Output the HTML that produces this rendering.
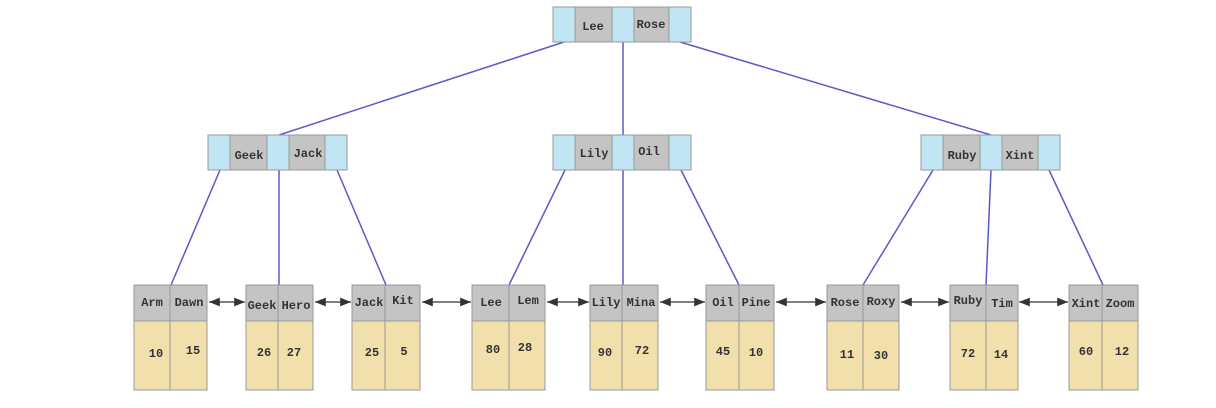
<!DOCTYPE html>
<html><head><meta charset="utf-8"><style>
html,body{margin:0;padding:0;background:#fff;}
svg text{font-family:"Liberation Mono",monospace;font-size:12px;fill:#333;font-weight:bold}
</style></head><body>
<svg width="1216" height="403" viewBox="0 0 1216 403" xmlns="http://www.w3.org/2000/svg">
<defs>
<marker id="a" viewBox="0 0 10 10" refX="10" refY="5" markerWidth="9" markerHeight="9" orient="auto-start-reverse"><path d="M0,1 L10,5 L0,9 z" fill="#333"/></marker>
</defs>
<g stroke="#5a5ac8" stroke-width="1.5">
<line x1="564" y1="42" x2="279" y2="135"/>
<line x1="623" y1="42" x2="623" y2="135"/>
<line x1="680" y1="42" x2="991" y2="135"/>
<line x1="220" y1="170" x2="171" y2="285"/>
<line x1="279" y1="170" x2="279" y2="285"/>
<line x1="337" y1="170" x2="386" y2="285"/>
<line x1="565" y1="170" x2="509" y2="285"/>
<line x1="623" y1="170" x2="623" y2="285"/>
<line x1="681" y1="170" x2="739" y2="285"/>
<line x1="933" y1="170" x2="863" y2="285"/>
<line x1="991" y1="170" x2="986" y2="285"/>
<line x1="1049" y1="170" x2="1103" y2="285"/>
</g>
<g stroke="#333" stroke-width="1.2" marker-start="url(#a)" marker-end="url(#a)">
<line x1="209" y1="302" x2="245" y2="302"/>
<line x1="315" y1="302" x2="351" y2="302"/>
<line x1="422" y1="302" x2="471" y2="302"/>
<line x1="547" y1="302" x2="589" y2="302"/>
<line x1="660" y1="302" x2="705" y2="302"/>
<line x1="776" y1="302" x2="826" y2="302"/>
<line x1="901" y1="302" x2="949" y2="302"/>
<line x1="1019" y1="302" x2="1068" y2="302"/>
</g>
<!-- internal nodes -->
<g stroke="#999" stroke-width="1">
<g transform="translate(553,7)"><rect width="22" height="35" fill="#bfe6f2"/><rect x="22" width="37" height="35" fill="#c4c4c4"/><rect x="59" width="22" height="35" fill="#bfe6f2"/><rect x="81" width="35" height="35" fill="#c4c4c4"/><rect x="116" width="22" height="35" fill="#bfe6f2"/></g>
<g transform="translate(208,135)"><rect width="22" height="35" fill="#bfe6f2"/><rect x="22" width="37" height="35" fill="#c4c4c4"/><rect x="59" width="22" height="35" fill="#bfe6f2"/><rect x="81" width="36" height="35" fill="#c4c4c4"/><rect x="117" width="22" height="35" fill="#bfe6f2"/></g>
<g transform="translate(553,135)"><rect width="22" height="35" fill="#bfe6f2"/><rect x="22" width="37" height="35" fill="#c4c4c4"/><rect x="59" width="22" height="35" fill="#bfe6f2"/><rect x="81" width="35" height="35" fill="#c4c4c4"/><rect x="116" width="22" height="35" fill="#bfe6f2"/></g>
<g transform="translate(921,135)"><rect width="22" height="35" fill="#bfe6f2"/><rect x="22" width="37" height="35" fill="#c4c4c4"/><rect x="59" width="22" height="35" fill="#bfe6f2"/><rect x="81" width="36" height="35" fill="#c4c4c4"/><rect x="117" width="22" height="35" fill="#bfe6f2"/></g>
</g>
<g text-anchor="middle">
<text x="593" y="30">Lee</text><text x="651" y="28">Rose</text>
<text x="249" y="159">Geek</text><text x="308" y="157">Jack</text>
<text x="594" y="157">Lily</text><text x="649" y="155">Oil</text>
<text x="962" y="159">Ruby</text><text x="1020" y="159">Xint</text>
</g>
<!-- leaves -->
<g stroke="#999" stroke-width="1">
<g transform="translate(134,285)"><rect width="36" height="36" fill="#c4c4c4"/><rect x="36" width="37" height="36" fill="#c4c4c4"/><rect y="36" width="36" height="69" fill="#f2e0ac"/><rect x="36" y="36" width="37" height="69" fill="#f2e0ac"/></g>
<g transform="translate(246,285)"><rect width="32" height="36" fill="#c4c4c4"/><rect x="32" width="35" height="36" fill="#c4c4c4"/><rect y="36" width="32" height="69" fill="#f2e0ac"/><rect x="32" y="36" width="35" height="69" fill="#f2e0ac"/></g>
<g transform="translate(352,285)"><rect width="33" height="36" fill="#c4c4c4"/><rect x="33" width="35" height="36" fill="#c4c4c4"/><rect y="36" width="33" height="69" fill="#f2e0ac"/><rect x="33" y="36" width="35" height="69" fill="#f2e0ac"/></g>
<g transform="translate(472,285)"><rect width="37" height="36" fill="#c4c4c4"/><rect x="37" width="36" height="36" fill="#c4c4c4"/><rect y="36" width="37" height="69" fill="#f2e0ac"/><rect x="37" y="36" width="36" height="69" fill="#f2e0ac"/></g>
<g transform="translate(590,285)"><rect width="32" height="36" fill="#c4c4c4"/><rect x="32" width="36" height="36" fill="#c4c4c4"/><rect y="36" width="32" height="69" fill="#f2e0ac"/><rect x="32" y="36" width="36" height="69" fill="#f2e0ac"/></g>
<g transform="translate(706,285)"><rect width="33" height="36" fill="#c4c4c4"/><rect x="33" width="35" height="36" fill="#c4c4c4"/><rect y="36" width="33" height="69" fill="#f2e0ac"/><rect x="33" y="36" width="35" height="69" fill="#f2e0ac"/></g>
<g transform="translate(827,285)"><rect width="36" height="36" fill="#c4c4c4"/><rect x="36" width="36" height="36" fill="#c4c4c4"/><rect y="36" width="36" height="69" fill="#f2e0ac"/><rect x="36" y="36" width="36" height="69" fill="#f2e0ac"/></g>
<g transform="translate(950,285)"><rect width="36" height="36" fill="#c4c4c4"/><rect x="36" width="32" height="36" fill="#c4c4c4"/><rect y="36" width="36" height="69" fill="#f2e0ac"/><rect x="36" y="36" width="32" height="69" fill="#f2e0ac"/></g>
<g transform="translate(1069,285)"><rect width="33" height="36" fill="#c4c4c4"/><rect x="33" width="36" height="36" fill="#c4c4c4"/><rect y="36" width="33" height="69" fill="#f2e0ac"/><rect x="33" y="36" width="36" height="69" fill="#f2e0ac"/></g>
</g>
<g text-anchor="middle">
<text x="152" y="306">Arm</text><text x="189" y="306">Dawn</text><text x="156" y="357">10</text><text x="193" y="354">15</text>
<text x="262" y="309">Geek</text><text x="296" y="309">Hero</text><text x="264" y="356">26</text><text x="294" y="356">27</text>
<text x="369" y="306">Jack</text><text x="403" y="304">Kit</text><text x="372" y="356">25</text><text x="404" y="355">5</text>
<text x="491" y="306">Lee</text><text x="528" y="304">Lem</text><text x="493" y="353">80</text><text x="525" y="351">28</text>
<text x="606" y="306">Lily</text><text x="641" y="306">Mina</text><text x="605" y="356">90</text><text x="642" y="354">72</text>
<text x="723" y="306">Oil</text><text x="756" y="306">Pine</text><text x="723" y="355">45</text><text x="756" y="356">10</text>
<text x="845" y="306">Rose</text><text x="881" y="305">Roxy</text><text x="847" y="358">11</text><text x="881" y="359">30</text>
<text x="968" y="304">Ruby</text><text x="1002" y="307">Tim</text><text x="968" y="357">72</text><text x="1001" y="358">14</text>
<text x="1086" y="307">Xint</text><text x="1120" y="307">Zoom</text><text x="1086" y="355">60</text><text x="1122" y="355">12</text>
</g>
</svg>
</body></html>
